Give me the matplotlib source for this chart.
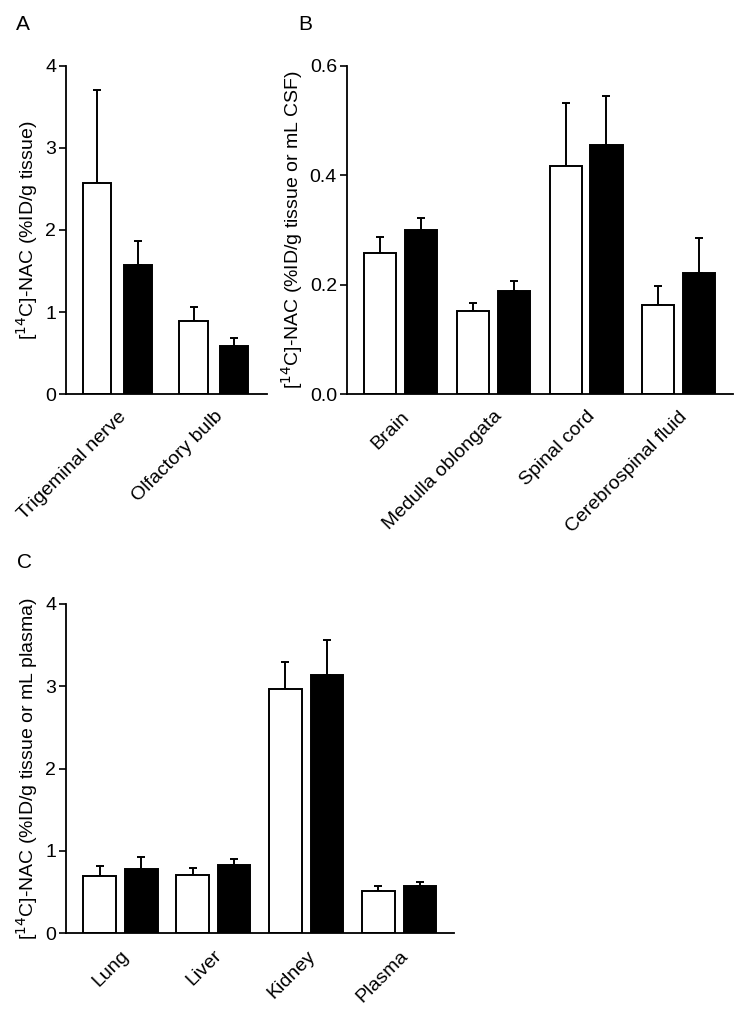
import matplotlib
matplotlib.use("Agg")
import matplotlib.pyplot as plt
import numpy as np

plt.rcParams['font.family'] = ['Liberation Sans', 'DejaVu Sans']

# panel A
cats_a = ['Trigeminal nerve', 'Olfactory bulb']
white_a = [2.57, 0.89]
white_a_err = [1.13, 0.17]
black_a = [1.57, 0.58]
black_a_err = [0.29, 0.10]

# panel B
cats_b = ['Brain', 'Medulla oblongata', 'Spinal cord', 'Cerebrospinal fluid']
white_b = [0.257, 0.151, 0.417, 0.162]
white_b_err = [0.030, 0.016, 0.115, 0.036]
black_b = [0.299, 0.188, 0.456, 0.222]
black_b_err = [0.022, 0.019, 0.089, 0.064]

# panel C
cats_c = ['Lung', 'Liver', 'Kidney', 'Plasma']
white_c = [0.70, 0.71, 2.96, 0.51]
white_c_err = [0.12, 0.08, 0.33, 0.065]
black_c = [0.78, 0.825, 3.13, 0.575]
black_c_err = [0.14, 0.075, 0.43, 0.045]

FS = 14


def draw_panel(ax, cats, w, we, b, be, ylim, yticks, ylabel, xlim, bw, off, lab_x):
    x = np.arange(len(cats))
    for vals, errs, col, dx in [(w, we, 'white', -off), (b, be, 'black', off)]:
        ax.bar(x + dx, vals, width=bw, color=col, edgecolor='black',
               linewidth=1.4, zorder=2)
        ax.errorbar(x + dx, vals, yerr=[np.zeros(len(vals)), errs], fmt='none',
                    ecolor='black', elinewidth=1.4, capsize=3.2, capthick=1.4,
                    zorder=1)
    ax.set_xlim(*xlim)
    ax.set_ylim(*ylim)
    ax.set_yticks(yticks)
    ax.set_xticks(x)
    ax.set_xticklabels(cats, rotation=45, ha='right', rotation_mode='anchor',
                       fontsize=FS)
    ax.tick_params(axis='x', length=0, pad=10)
    ax.tick_params(axis='y', length=5, width=1.2, labelsize=FS, pad=2)
    for s in ['top', 'right']:
        ax.spines[s].set_visible(False)
    for s in ['left', 'bottom']:
        ax.spines[s].set_linewidth(1.3)
    ax.set_ylabel(ylabel, fontsize=FS)
    ax.yaxis.set_label_coords(lab_x, 0.5)


fig = plt.figure(figsize=(7.43, 10.13), dpi=100)

ax_a = fig.add_axes([0.0888, 0.611, 0.2705, 0.324])
draw_panel(ax_a, cats_a, white_a, white_a_err, black_a, black_a_err,
           (0, 4), [0, 1, 2, 3, 4], r'[$^{14}$C]-NAC (%ID/g tissue)',
           (-0.534, 1.549), 0.295, 0.21, -0.13)

ax_b = fig.add_axes([0.4666, 0.611, 0.5199, 0.324])
draw_panel(ax_b, cats_b, white_b, white_b_err, black_b, black_b_err,
           (0, 0.6), [0.0, 0.2, 0.4, 0.6],
           r'[$^{14}$C]-NAC (%ID/g tissue or mL CSF)',
           (-0.58, 3.583), 0.345, 0.22, -0.108)
ax_b.set_yticklabels(['0.0', '0.2', '0.4', '0.6'])

ax_c = fig.add_axes([0.0888, 0.0787, 0.5226, 0.3253])
draw_panel(ax_c, cats_c, white_c, white_c_err, black_c, black_c_err,
           (0, 4), [0, 1, 2, 3, 4],
           r'[$^{14}$C]-NAC (%ID/g tissue or mL plasma)',
           (-0.587, 3.593), 0.35, 0.224, -0.067)

fig.text(23 / 743, 1 - 25 / 1013, 'A', fontsize=15, ha='center', va='center')
fig.text(305 / 743, 1 - 25 / 1013, 'B', fontsize=15, ha='center', va='center')
fig.text(24 / 743, 1 - 563 / 1013, 'C', fontsize=15, ha='center', va='center')

fig.savefig('out.png', dpi=100)
